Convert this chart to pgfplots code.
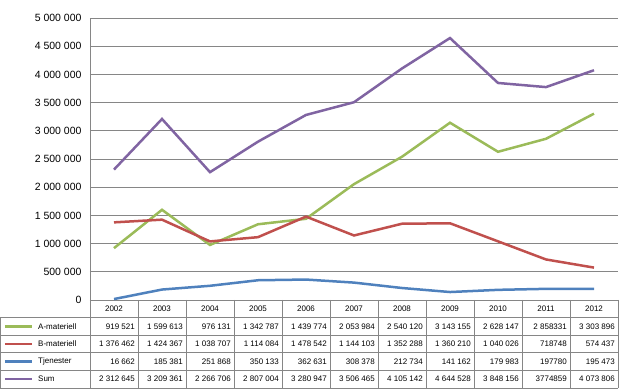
\documentclass[border=0pt]{standalone}
\usepackage{pgfplots}
\pgfplotsset{compat=1.18}
\usepackage{fontspec}
\setmainfont{Liberation Sans}
\definecolor{cA}{RGB}{155,187,89}
\definecolor{cB}{RGB}{192,80,77}
\definecolor{cT}{RGB}{79,129,189}
\definecolor{cS}{RGB}{128,100,162}
\definecolor{gridc}{RGB}{134,134,134}
\begin{document}
\begin{tikzpicture}
\useasboundingbox (-90pt,-90pt) rectangle (530pt,300pt);
\begin{axis}[at={(0pt,0pt)}, anchor=south west, scale only axis,
  width=528pt, height=282pt,
  xmin=-0.5, xmax=10.5, ymin=0, ymax=5000000,
  ytick={0,500000,1000000,1500000,2000000,2500000,3000000,3500000,4000000,4500000,5000000},
  xtick=\empty, scaled y ticks=false,
  ymajorgrids, grid style={gridc, line width=0.8pt},
  axis x line*=bottom, axis y line*=left,
  axis line style={gridc, line width=0.8pt, -},
  major tick length=0pt,
  y tick label style={font=\fontsize{10.5}{12}\selectfont, xshift=-5pt, /pgf/number format/.cd, fixed, 1000 sep={\ }, assume math mode=true},
  clip=false]
\addplot[cA, line width=2.5pt] coordinates {(0,919521)(1,1599613)(2,976131)(3,1342787)(4,1439774)(5,2053984)(6,2540120)(7,3143155)(8,2628147)(9,2858331)(10,3303896)};
\addplot[cB, line width=2.5pt] coordinates {(0,1376462)(1,1424367)(2,1038707)(3,1114084)(4,1478542)(5,1144103)(6,1352288)(7,1360210)(8,1040026)(9,718748)(10,574437)};
\addplot[cT, line width=2.5pt] coordinates {(0,16662)(1,185381)(2,251868)(3,350133)(4,362631)(5,308378)(6,212734)(7,141162)(8,179983)(9,197780)(10,195473)};
\addplot[cS, line width=2.5pt] coordinates {(0,2312645)(1,3209361)(2,2266706)(3,2807004)(4,3280947)(5,3506465)(6,4105142)(7,4644528)(8,3848156)(9,3774859)(10,4073806)};
\end{axis}
% data table
\begin{scope}[font=\fontsize{8}{9.6}\selectfont]
\foreach \r in {1,...,5} { \draw[gridc, line width=0.8pt] (-90pt,-17.6*\r pt) -- (528pt,-17.6*\r pt); }
\foreach \c in {0,...,11} { \draw[gridc, line width=0.8pt] (48*\c pt,0pt) -- (48*\c pt,-88pt); }
\draw[gridc, line width=0.8pt] (-90pt,-17.6pt) -- (-90pt,-88pt);
\foreach \y [count=\i from 0] in {2002,2003,2004,2005,2006,2007,2008,2009,2010,2011,2012}
  { \node at (48*\i pt+24pt,-8.8pt) {\y}; }
\foreach \v [count=\i from 0] in {919 521,1 599 613,976 131,1 342 787,1 439 774,2 053 984,2 540 120,3 143 155,2 628 147,2 858331,3 303 896}
  { \node[anchor=east, inner sep=0pt] at (48*\i pt+45pt,-26.4pt) {\v}; }
\foreach \v [count=\i from 0] in {1 376 462,1 424 367,1 038 707,1 114 084,1 478 542,1 144 103,1 352 288,1 360 210,1 040 026,718748,574 437}
  { \node[anchor=east, inner sep=0pt] at (48*\i pt+45pt,-44pt) {\v}; }
\foreach \v [count=\i from 0] in {16 662,185 381,251 868,350 133,362 631,308 378,212 734,141 162,179 983,197780,195 473}
  { \node[anchor=east, inner sep=0pt] at (48*\i pt+45pt,-61.6pt) {\v}; }
\foreach \v [count=\i from 0] in {2 312 645,3 209 361,2 266 706,2 807 004,3 280 947,3 506 465,4 105 142,4 644 528,3 848 156,3774859,4 073 806}
  { \node[anchor=east, inner sep=0pt] at (48*\i pt+45pt,-79.2pt) {\v}; }
\draw[cA, line width=2.5pt] (-85pt,-26.4pt) -- (-58pt,-26.4pt);
\node[anchor=west, inner sep=0pt] at (-52pt,-26.4pt) {A-materiell};
\draw[cB, line width=2.5pt] (-85pt,-44pt) -- (-58pt,-44pt);
\node[anchor=west, inner sep=0pt] at (-52pt,-44pt) {B-materiell};
\draw[cT, line width=2.5pt] (-85pt,-61.6pt) -- (-58pt,-61.6pt);
\node[anchor=west, inner sep=0pt] at (-52pt,-61.6pt) {Tjenester};
\draw[cS, line width=2.5pt] (-85pt,-79.2pt) -- (-58pt,-79.2pt);
\node[anchor=west, inner sep=0pt] at (-52pt,-79.2pt) {Sum};
\end{scope}
\end{tikzpicture}
\end{document}
